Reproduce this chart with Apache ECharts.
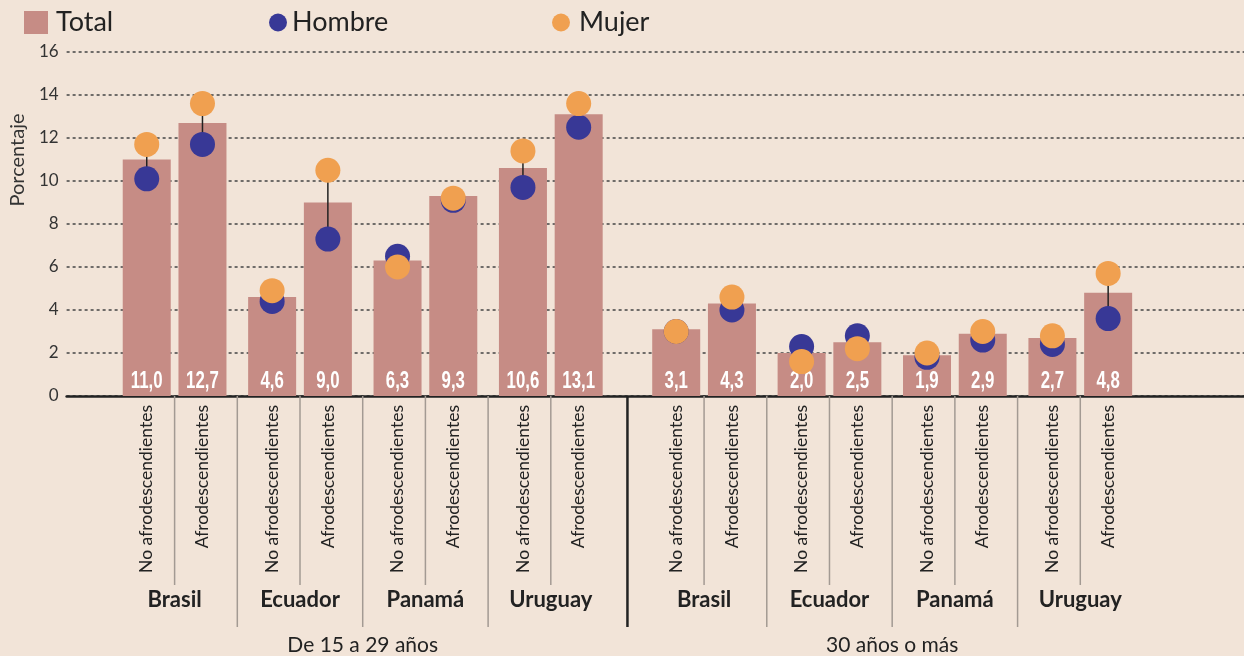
<!DOCTYPE html>
<html lang="es">
<head>
<meta charset="UTF-8">
<title>Porcentaje por sexo y condición étnico-racial</title>
<script src="https://cdn.jsdelivr.net/npm/echarts@6/dist/echarts.min.js"></script>
<style>
  html, body { margin: 0; padding: 0; background: #f2e4d8; }
  #main { width: 1244px; height: 656px; }
</style>
</head>
<body>
<div id="main"></div>
<script>
var grupos = ['De 15 a 29 años', '30 años o más'];
var paises = ['Brasil', 'Ecuador', 'Panamá', 'Uruguay'];
var tipos = ['No afrodescendientes', 'Afrodescendientes'];
var total  = [11.0, 12.7, 4.6, 9.0, 6.3, 9.3, 10.6, 13.1, 3.1, 4.3, 2.0, 2.5, 1.9, 2.9, 2.7, 4.8];
var hombre = [10.1, 11.7, 4.4, 7.3, 6.5, 9.1, 9.7, 12.5, 3.0, 4.0, 2.3, 2.8, 1.8, 2.6, 2.4, 3.6];
var mujer  = [11.7, 13.6, 4.9, 10.5, 6.0, 9.2, 11.4, 13.6, 3.0, 4.6, 1.6, 2.2, 2.0, 3.0, 2.8, 5.7];
var yTicks = [0, 2, 4, 6, 8, 10, 12, 14, 16];

// layout in half-slots: 8 between a pair, 10 between countries, 14 between age groups
var LEAD = 11, PAR = 8, PAIS = 10, GRUPO = 14, NSLOTS = 169;

function blank(v) { var a = []; for (var i = 0; i < NSLOTS; i++) a.push(v); return a; }

var pos = [];
var p = LEAD;
grupos.forEach(function () {
    paises.forEach(function () {
        tipos.forEach(function (t, ti) {
            pos.push(p);
            p += ti === 0 ? PAR : PAIS;
        });
    });
    p += GRUPO - PAIS;
});

var slotTipo = blank(''), slotPais = blank(''), slotGrupo = blank('');
var barData = blank('-'), hData = blank('-'), mData = blank('-');
var linkData = [], labelData = [], sepData = [];

pos.forEach(function (s, i) {
    slotTipo[s] = tipos[i % 2];
    barData[s] = total[i];
    hData[s] = hombre[i];
    mData[s] = mujer[i];
    linkData.push([s, hombre[i], mujer[i]]);
    labelData.push([s, total[i]]);
    if (i % 2 === 0) {
        slotPais[s + PAR / 2] = paises[(i / 2) % paises.length];
        sepData.push([s + PAR / 2, 0]);
    } else if (i % 8 !== 7) {
        sepData.push([s + PAIS / 2, 1]);
    } else if (i < pos.length - 1) {
        sepData.push([s + GRUPO / 2, 2]);
    }
});
grupos.forEach(function (g, gi) {
    slotGrupo[(pos[gi * 8] + pos[gi * 8 + 7]) / 2] = g;
});

// separator styles: pair, country, age group
var SEP_LEN = [189, 231, 231];
var SEP_COLOR = ['#a39a93', '#a39a93', '#222'];
var SEP_W = [1.5, 1.5, 2.5];

var FONT = 'Lato';
var chart = echarts.init(document.getElementById('main'));

var option = {
    backgroundColor: '#f2e4d8',
    textStyle: { fontFamily: FONT },
    legend: [
        { data: ['Total'], left: 24, top: 9, padding: 0, icon: 'rect', itemWidth: 24, itemHeight: 23,
          textStyle: { fontSize: 27, color: '#222', fontFamily: FONT, padding: [0, 0, 0, 3] } },
        { data: ['Hombre'], left: 269, top: 9, padding: 0, icon: 'circle', itemWidth: 18, itemHeight: 18,
          textStyle: { fontSize: 27, color: '#222', fontFamily: FONT } },
        { data: ['Mujer'], left: 552, top: 9, padding: 0, icon: 'circle', itemWidth: 18, itemHeight: 18,
          textStyle: { fontSize: 27, color: '#222', fontFamily: FONT, padding: [0, 0, 0, 4] } }
    ],
    grid: { left: 65, right: 0, top: 52, bottom: 260, containLabel: false },
    xAxis: [
        {
            type: 'category', data: slotTipo, position: 'bottom',
            axisLine: { lineStyle: { color: '#222', width: 2.5 } },
            axisTick: { show: false },
            axisLabel: { interval: 0, rotate: 90, margin: 9, fontSize: 17.5, color: '#222', fontFamily: FONT }
        },
        {
            type: 'category', data: slotPais, position: 'bottom',
            axisLine: { show: false }, axisTick: { show: false },
            axisLabel: { interval: 0, margin: 193, fontSize: 22, fontWeight: 'bold', lineHeight: 22,
                         color: '#222', fontFamily: FONT }
        },
        {
            type: 'category', data: slotGrupo, position: 'bottom',
            axisLine: { show: false }, axisTick: { show: false },
            axisLabel: { interval: 0, margin: 238, fontSize: 21, lineHeight: 22, color: '#222', fontFamily: FONT }
        }
    ],
    yAxis: {
        type: 'value',
        min: yTicks[0], max: yTicks[yTicks.length - 1], interval: yTicks[1] - yTicks[0],
        name: 'Porcentaje', nameLocation: 'middle', nameRotate: 90, nameGap: 35,
        nameTextStyle: { fontSize: 20, color: '#333', fontFamily: FONT, padding: [0, 0, 0, 128] },
        axisLine: { show: false },
        axisTick: { show: false },
        axisLabel: { fontSize: 17, color: '#333', margin: 8, fontFamily: FONT },
        splitLine: { lineStyle: { color: '#444', type: [3, 3], width: 1.5 } }
    },
    series: [
        {
            name: 'Total', type: 'bar', data: barData, barWidth: 48, z: 2,
            itemStyle: { color: '#c68c85' }
        },
        {
            name: 'valores', type: 'custom', z: 3, silent: true,
            data: labelData, encode: { x: 0, y: 1 },
            renderItem: function (params, api) {
                var base = api.coord([api.value(0), 0]);
                return {
                    type: 'text', x: base[0], y: base[1] - 3, scaleX: 0.7,
                    style: {
                        x: 0, y: 0,
                        text: api.value(1).toFixed(1).replace('.', ','),
                        fill: '#fff', fontFamily: '"Liberation Sans", Arial, sans-serif',
                        fontWeight: 'bold', fontSize: 24, align: 'center', verticalAlign: 'bottom'
                    }
                };
            }
        },
        {
            name: 'separadores', type: 'custom', z: 3, silent: true, clip: false,
            data: sepData, encode: { x: 0 },
            renderItem: function (params, api) {
                var base = api.coord([api.value(0), 0]);
                var k = api.value(1);
                return {
                    type: 'line',
                    shape: { x1: base[0], y1: base[1], x2: base[0], y2: base[1] + SEP_LEN[k] },
                    style: { stroke: SEP_COLOR[k], lineWidth: SEP_W[k] }
                };
            }
        },
        {
            name: 'enlace', type: 'custom', z: 3, silent: true,
            data: linkData, encode: { x: 0, y: [1, 2] },
            renderItem: function (params, api) {
                var a = api.coord([api.value(0), api.value(1)]);
                var b = api.coord([api.value(0), api.value(2)]);
                return { type: 'line', shape: { x1: a[0], y1: a[1], x2: b[0], y2: b[1] },
                         style: { stroke: '#222', lineWidth: 1.5 } };
            }
        },
        {
            name: 'Hombre', type: 'scatter', data: hData, symbol: 'circle', symbolSize: 25, z: 4,
            itemStyle: { color: '#383896', opacity: 1 }
        },
        {
            name: 'Mujer', type: 'scatter', data: mData, symbol: 'circle', symbolSize: 25, z: 5,
            itemStyle: { color: '#f0a050', opacity: 1 }
        }
    ]
};

chart.setOption(option);
</script>
</body>
</html>
